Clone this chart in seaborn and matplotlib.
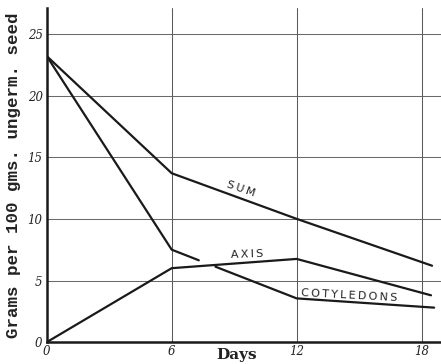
import matplotlib
matplotlib.use("Agg")
import matplotlib.pyplot as plt
import seaborn as sns
import pandas as pd

# Seed reserves during germination (grams per 100 g ungerminated seed)
sum_days = [0, 6, 12, 18.5]
sum_vals = [23.2, 13.7, 10.0, 6.2]

axis_days = [0, 6, 12, 18.45]
axis_vals = [0.0, 6.0, 6.75, 3.8]

# cotyledon curve is broken where it passes under the axis curve
cot_days_a = [0, 6, 7.3]
cot_vals_a = [23.2, 7.5, 6.64]
cot_days_b = [8.1, 12, 18.6]
cot_vals_b = [6.12, 3.55, 2.8]

x_ticks = [0, 6, 12, 18]
y_ticks = [0, 5, 10, 15, 20, 25]

sns.set_theme(style="white")
plt.rcParams["font.family"] = ["DejaVu Sans"]

fig = plt.figure(figsize=(4.41, 3.64), dpi=100)
ax = fig.add_axes([0.106, 0.06, 0.894, 0.918])

ink = "#1a1a1a"
line_kw = dict(color=ink, linewidth=1.6, estimator=None, sort=False, legend=False)

sns.lineplot(data=pd.DataFrame({"d": sum_days, "v": sum_vals}), x="d", y="v", ax=ax, **line_kw)
sns.lineplot(data=pd.DataFrame({"d": axis_days, "v": axis_vals}), x="d", y="v", ax=ax, **line_kw)
sns.lineplot(data=pd.DataFrame({"d": cot_days_a, "v": cot_vals_a}), x="d", y="v", ax=ax, **line_kw)
sns.lineplot(data=pd.DataFrame({"d": cot_days_b, "v": cot_vals_b}), x="d", y="v", ax=ax, **line_kw)

ax.set_xlim(0, 18.93)
ax.set_ylim(0, 27.1)

# ruled grid
for y in y_ticks[1:]:
    ax.axhline(y, color="#6a6a6a", linewidth=0.75, zorder=0)
for x in x_ticks[1:]:
    ax.axvline(x, color="#5a5a5a", linewidth=0.75, zorder=0)

for side in ["top", "right"]:
    ax.spines[side].set_visible(False)
for side in ["left", "bottom"]:
    ax.spines[side].set_color(ink)
    ax.spines[side].set_linewidth(1.8)

ax.set_xticks(x_ticks)
ax.set_yticks(y_ticks)
tick_font = dict(family="DejaVu Serif", style="italic", size=8.5, color="#222222")
ax.set_xticklabels([str(t) for t in x_ticks], **tick_font)
ax.set_yticklabels([str(t) for t in y_ticks], **tick_font)
ax.tick_params(axis="both", length=0, pad=3)
ax.tick_params(axis="x", pad=2)

ax.set_xlabel("")
ax.set_ylabel("Grams per 100 gms. ungerm. seed", family="Liberation Mono",
              weight="bold", size=12.6, color="#222222", labelpad=5)
ax.text(9.1, -0.45, "Days", family="DejaVu Serif", weight="bold", size=11,
        color="#222222", ha="center", va="top")

thin = "\u2009"
lab_kw = dict(family="DejaVu Sans", size=8, color="#222222", ha="center", va="center")
ax.text(9.3, 12.45, thin.join("SUM"), rotation=-19, **lab_kw)
ax.text(9.6, 7.15, thin.join("AXIS"), rotation=2, **lab_kw)
ax.text(14.5, 3.8, thin.join("COTYLEDONS"), rotation=-3, **lab_kw)

fig.savefig("out.png", dpi=100)
